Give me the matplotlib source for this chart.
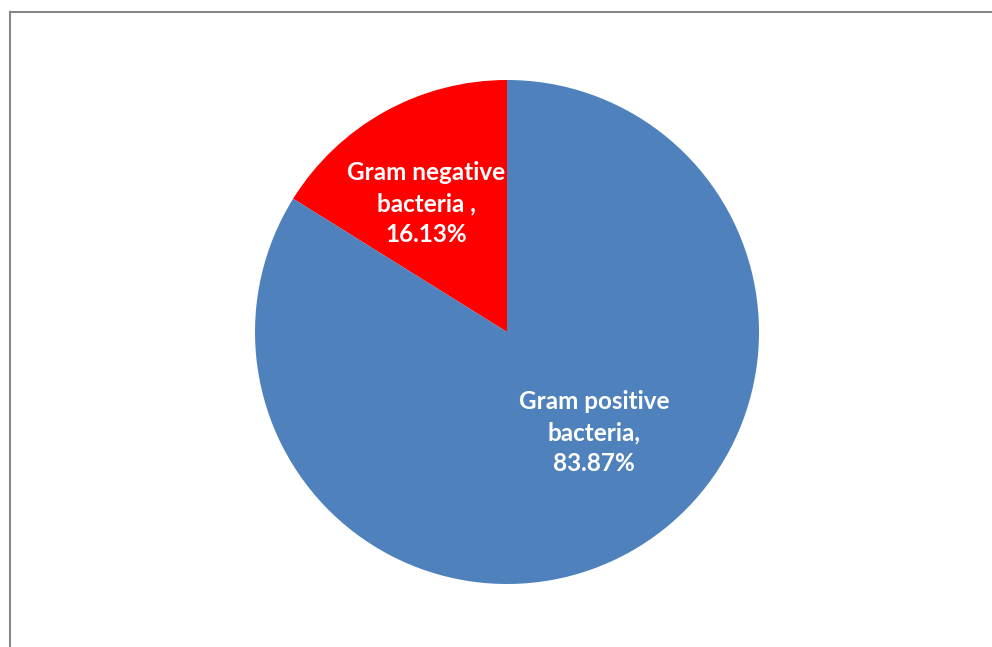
import matplotlib
matplotlib.use("Agg")
import matplotlib.pyplot as plt
from matplotlib.lines import Line2D

# Slice data
categories = ['Gram negative\nbacteria ,', 'Gram positive\nbacteria,']
shares = [16.13, 83.87]
colors = ['#FF0000', '#4F81BD']
# label positions in axes data units (pie radius = 1)
label_xy = [(-0.32, 0.51), (0.345, -0.40)]

plt.rcParams['font.family'] = ['Lato', 'DejaVu Sans']

W, H = 992, 647
fig = plt.figure(figsize=(W / 100, H / 100), dpi=100)
fig.patch.set_facecolor('white')

# pie centre (507, 332) px, radius 252 px
cx, cy, r = 507, 332, 252
ax = fig.add_axes([(cx - r) / W, (H - cy - r) / H, 2 * r / W, 2 * r / H])

ax.pie(shares, colors=colors, startangle=90, counterclock=True, radius=1,
       wedgeprops=dict(linewidth=0))
ax.set_xlim(-1, 1)
ax.set_ylim(-1, 1)
ax.set_aspect('auto')
ax.axis('off')

for name, val, (x, y) in zip(categories, shares, label_xy):
    ax.text(x, y, f'{name}\n{val:.2f}%', ha='center', va='center',
            color='white', fontsize=17.5, fontweight='bold', linespacing=1.42)

# chart border (only top and left visible)
border = '#888888'
fig.add_artist(Line2D([10 / W, 10 / W], [0, 1 - 11.5 / H], color=border,
                      linewidth=1.5, transform=fig.transFigure))
fig.add_artist(Line2D([10 / W, 1], [1 - 11.5 / H, 1 - 11.5 / H], color=border,
                      linewidth=1.5, transform=fig.transFigure))

fig.savefig('out.png', dpi=100)
